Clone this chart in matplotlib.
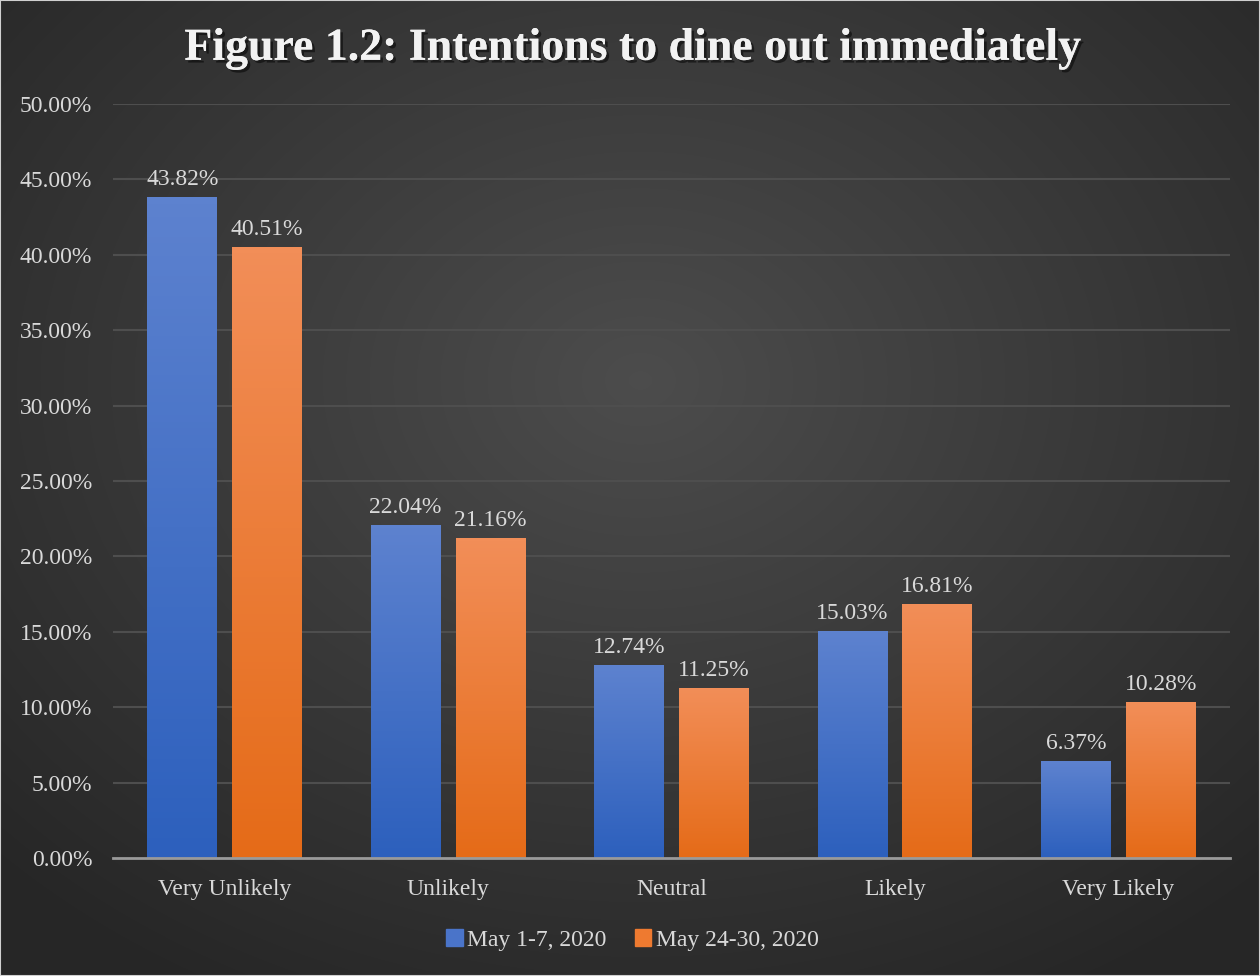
import numpy as np
import matplotlib
matplotlib.use("Agg")
import matplotlib.pyplot as plt
import matplotlib.patheffects as pe
from matplotlib.patches import Rectangle

categories = ["Very Unlikely", "Unlikely", "Neutral", "Likely", "Very Likely"]
may_1_7 = [43.82, 22.04, 12.74, 15.03, 6.37]
may_24_30 = [40.51, 21.16, 11.25, 16.81, 10.28]
series_names = ["May 1-7, 2020", "May 24-30, 2020"]
y_ticks = [0, 5, 10, 15, 20, 25, 30, 35, 40, 45, 50]

plt.rcParams['font.family'] = ['Liberation Serif', 'DejaVu Serif']
txt_col = '#d9d9d9'
fs = 17

fig = plt.figure(figsize=(12.6, 9.76), dpi=100)

# radial background
bg = fig.add_axes([0, 0, 1, 1], zorder=-10)
yy, xx = np.mgrid[0:976, 0:1260]
r = np.sqrt(((xx - 640) / 900.0) ** 2 + ((yy - 380) / 700.0) ** 2)
r = np.clip(r, 0, 1)
lum = 0.30 - 0.15 * r
img = np.dstack([lum, lum, lum])
bg.imshow(img, extent=[0, 1, 0, 1], aspect='auto', origin='upper')
bg.set_axis_off()
bg.add_patch(Rectangle((0, 0), 1, 1, transform=bg.transAxes, fill=False,
                       edgecolor='#d0d0d0', linewidth=1.5))

ax = fig.add_axes([0.0897, 0.1209, 0.8865, 0.7725])
ax.set_facecolor('none')
x = np.arange(len(categories))
w = 0.313
off = 0.19

def grad_bar(xc, h, top, bottom):
    c1 = np.array(matplotlib.colors.to_rgb(top))
    c2 = np.array(matplotlib.colors.to_rgb(bottom))
    t = np.linspace(0, 1, 100)[:, None]
    g = c1 * (1 - t) + c2 * t
    g = g[:, None, :]
    ax.imshow(g, extent=[xc - w / 2, xc + w / 2, 0, h], aspect='auto',
              origin='upper', zorder=3)

for i in range(len(categories)):
    grad_bar(x[i] - off, may_1_7[i], '#5d82cf', '#2d60bd')
    grad_bar(x[i] + off, may_24_30[i], '#f28e58', '#e56b18')
    ax.text(x[i] - off, may_1_7[i] + 0.5, '%.2f%%' % may_1_7[i], ha='center',
            va='bottom', color=txt_col, fontsize=fs)
    ax.text(x[i] + off, may_24_30[i] + 0.5, '%.2f%%' % may_24_30[i], ha='center',
            va='bottom', color=txt_col, fontsize=fs)

ax.set_xlim(-0.5, len(categories) - 0.5)
ax.set_ylim(0, 50)
ax.set_yticks(y_ticks)
ax.set_yticklabels(['%.2f%%' % v for v in y_ticks], color=txt_col, fontsize=fs)
ax.set_xticks(x)
ax.set_xticklabels(categories, color=txt_col, fontsize=fs)
ax.tick_params(axis='y', length=0, pad=15)
ax.tick_params(axis='x', length=0, pad=15)
for yv in y_ticks[1:]:
    ax.axhline(yv, color='#4e4e4e', linewidth=1.5, zorder=1)
for s in ['top', 'right', 'left']:
    ax.spines[s].set_visible(False)
ax.spines['bottom'].set_color('#9a9a9a')
ax.spines['bottom'].set_linewidth(2)
ax.spines['bottom'].set_zorder(4)

fig.text(0.503, 0.950, 'Figure 1.2: Intentions to dine out immediately',
         ha='center', va='center', color='#f2f2f2', fontsize=33,
         fontweight='bold',
         path_effects=[pe.withSimplePatchShadow(offset=(2, -2), shadow_rgbFace='black', alpha=0.5),
                       pe.Normal()])

h1 = Rectangle((0, 0), 1, 1, color='#4a74c9')
h2 = Rectangle((0, 0), 1, 1, color='#ee7a30')
leg = fig.legend([h1, h2], series_names, loc='center', bbox_to_anchor=(0.502, 0.037),
                 ncol=2, frameon=False, fontsize=fs, handlelength=0.7, handleheight=0.7,
                 handletextpad=0.2, columnspacing=1.2)
for t in leg.get_texts():
    t.set_color(txt_col)

fig.savefig('out.png', dpi=100)
